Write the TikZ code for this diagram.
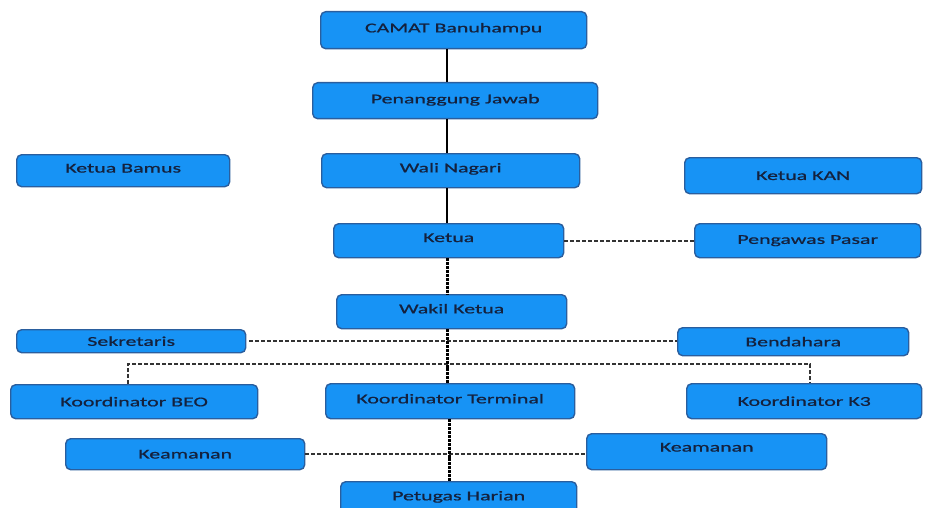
\documentclass[tikz,border=0pt]{standalone}
\usepackage{fontspec}
\newfontfamily\boxfont[FakeStretch=1.62,FakeBold=0.8]{Carlito}
\definecolor{boxfill}{HTML}{1793F5}
\definecolor{boxdraw}{HTML}{2A5E9E}
\definecolor{boxtext}{HTML}{14213D}
\begin{document}
\begin{tikzpicture}[x=1pt,y=-1pt,
  orgbox/.style={draw=boxdraw, line width=1.4pt, fill=boxfill, rounded corners=5pt,
    anchor=north west, inner sep=0pt, text=boxtext,
    font=\boxfont\fontsize{13.5}{15}\selectfont},
  solidlink/.style={line width=2.6pt, black},
  dotlink/.style={line width=3pt, black, dash pattern=on 3pt off 0.9pt},
  dashlink/.style={line width=1.6pt, black!80, dash pattern=on 4pt off 2pt}]
\useasboundingbox (0,0) rectangle (926,508);
\fill[white] (0,0) rectangle (926,508);

\node[orgbox, minimum width=266pt, minimum height=37pt, text depth=5pt] (camat) at (320,11) {CAMAT Banuhampu};
\node[orgbox, minimum width=285pt, minimum height=36pt, text depth=4pt] (pj) at (312,82) {Penanggung Jawab};
\node[orgbox, minimum width=258pt, minimum height=34pt, text depth=6pt] (wali) at (321,153) {Wali Nagari};
\node[orgbox, minimum width=213pt, minimum height=32pt, text depth=5pt] (bamus) at (16,154) {Ketua Bamus};
\node[orgbox, minimum width=237pt, minimum height=36pt] (kan) at (684,157) {Ketua KAN};
\node[orgbox, minimum width=230pt, minimum height=34pt, text depth=6pt] (ketua) at (333,223) {Ketua};
\node[orgbox, minimum width=226pt, minimum height=34pt] (pengawas) at (694,223) {Pengawas Pasar};
\node[orgbox, minimum width=230pt, minimum height=34pt, text depth=6pt] (wakil) at (336,294) {Wakil Ketua};
\node[orgbox, minimum width=229pt, minimum height=23pt] (sek) at (16,329) {Sekretaris};
\node[orgbox, minimum width=231pt, minimum height=28pt] (bend) at (677,327) {Bendahara};
\node[orgbox, minimum width=247pt, minimum height=34pt] (beo) at (10,384) {Koordinator BEO};
\node[orgbox, minimum width=249pt, minimum height=35pt, text depth=5pt] (kterm) at (325,383) {Koordinator Terminal};
\node[orgbox, minimum width=235pt, minimum height=35pt] (k3) at (686,383) {Koordinator K3};
\node[orgbox, minimum width=239pt, minimum height=31pt] (keaml) at (65,438) {Keamanan};
\node[orgbox, minimum width=240pt, minimum height=36pt, text depth=9pt] (keamr) at (586,433) {Keamanan};
\node[orgbox, minimum width=236pt, minimum height=34pt, text depth=6pt] (petugas) at (340,481) {Petugas Harian};

\coordinate (spine) at (447,0);
\coordinate (spineb) at (449,0);
\coordinate (bar) at (0,364);
\coordinate (beodrop) at (128,384);
\coordinate (kthreedrop) at (810,383);
\coordinate (sekend) at (249,0);

\draw[solidlink] (camat.south -| spine) -- (pj.north -| spine);
\draw[solidlink] (pj.south -| spine) -- (wali.north -| spine);
\draw[solidlink] (wali.south -| spine) -- (ketua.north -| spine);
\draw[dotlink] (ketua.south -| spine) -- (wakil.north -| spine);
\draw[dashlink] (ketua.east) -- (pengawas.west);
\draw[dashlink] (sek.east -| sekend) -- (sek.east -| bend.west);
\draw[dashlink] (beodrop) |- (bar -| kthreedrop) -- (kthreedrop);
\draw[dotlink] (wakil.south -| spine) -- (kterm.north -| spine);
\draw[dashlink] (keaml.east) -- (keaml.east -| keamr.west);
\draw[dotlink] (kterm.south -| spineb) -- (petugas.north -| spineb);
\end{tikzpicture}
\end{document}
